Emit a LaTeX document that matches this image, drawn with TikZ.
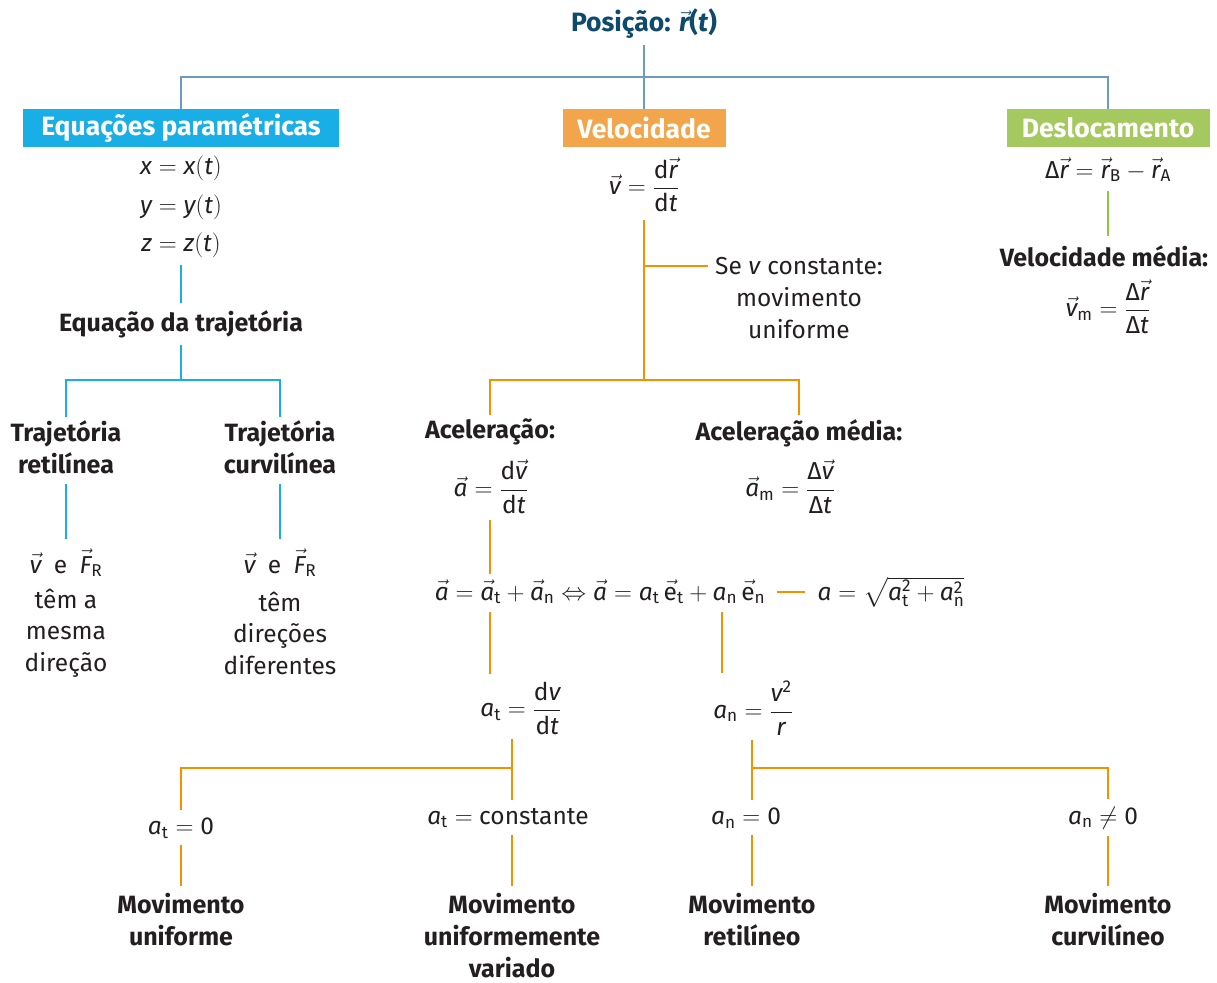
\documentclass[tikz,border=0pt]{standalone}
\usepackage{amsmath}
\usepackage{fontspec}
\setmainfont{Fira Sans}
\usetikzlibrary{calc}
\definecolor{ink}{HTML}{231F20}
\definecolor{titleblue}{HTML}{0D4A6B}
\definecolor{topline}{HTML}{6C9BBF}
\definecolor{cyanl}{HTML}{19AEE6}
\definecolor{orbox}{HTML}{F2A54A}
\definecolor{orl}{HTML}{F39200}
\definecolor{grbox}{HTML}{A5C95F}
\definecolor{grl}{HTML}{8DC63F}
\newcommand{\vv}[1]{\vec{\text{\itshape #1}}}
\newcommand{\iv}[1]{\text{\itshape #1}}
\newcommand{\fsr}{\fontsize{24.5}{32}\selectfont}
\tikzset{
  every node/.style={inner sep=0pt, text=ink, align=center, font=\fsr},
  lbl/.style={font=\fontsize{25}{32}\selectfont\bfseries},
  box/.style={fill=#1, text=white, font=\fontsize{26.5}{30}\selectfont\bfseries, minimum height=38},
  ltop/.style={draw=topline, line width=2.2},
  lblue/.style={draw=cyanl, line width=2.5},
  lor/.style={draw=orl, line width=2.5},
  lgr/.style={draw=grl, line width=2.5},
  gap/.style={shorten <=#1, shorten >=#1},
}
\begin{document}
\begin{tikzpicture}[x=1pt,y=-1pt]
\useasboundingbox (0,0) rectangle (1217,982);
% title
\node[font=\fontsize{26.5}{30}\selectfont\bfseries, text=titleblue] (title) at (644,24) {Posição: $\vv{r}$(\textit{t})};
\node[box=cyanl, minimum width=316] (eqb) at (181,128) {Equações paramétricas};
\node[box=orbox, minimum width=163] (velb) at (644,128) {Velocidade};
\node[box=grbox, minimum width=203] (desb) at (1108,128) {Deslocamento};
\coordinate (tj) at (644,77);
\draw[ltop, shorten <=6] (title.south) -- (tj);
\draw[ltop] (eqb.north) |- (tj) -| (desb.north);
\draw[ltop] (velb.north) -- (tj);
% left column
\node[font=\fontsize{24.5}{38.5}\selectfont] (pe) at (181,207) {$\iv{x} = \iv{x}(\iv{t})$\\ $\iv{y} = \iv{y}(\iv{t})$\\ $\iv{z} = \iv{z}(\iv{t})$};
\node[lbl] (traj) at (181,324) {Equação da trajetória};
\draw[lblue, gap=7] (pe) -- (traj);
\coordinate (jt) at (181,380);
\draw[lblue, shorten <=7] (traj.south) -- (jt);
\node[lbl] (tr1) at (66,447) {Trajetória\\retilínea};
\node[lbl] (tr2) at (280,447) {Trajetória\\curvilínea};
\draw[lblue, gap=3] (tr1.north) |- (jt) -| (tr2.north);
\node (vf1) at (66,563) {$\vv{v}$\enspace e\enspace $\vv{F}_{\text{R}}$};
\node (vf2) at (280,563) {$\vv{v}$\enspace e\enspace $\vv{F}_{\text{R}}$};
\draw[lblue, gap=10] (tr1) -- (vf1);
\draw[lblue, gap=10] (tr2) -- (vf2);
\node[font=\fontsize{24.5}{31.5}\selectfont] (tx1) at (66,633) {têm a\\mesma\\direção};
\node[font=\fontsize{24.5}{31.5}\selectfont] (tx2) at (280,633) {têm\\direções\\diferentes};
% middle column
\node (velf) at (644,185) {$\vv{v} = \dfrac{\text{d}\vv{r}}{\text{d}\iv{t}}$};
\coordinate (jv) at (644,380);
\draw[lor, shorten <=8] (velf.south) -- (jv);
\node (sev) at (799,298) {Se \textit{v} constante:\\movimento\\uniforme};
\coordinate (js) at (644,266);
\draw[lor, shorten >=7] (js) -- (js -| sev.west);
\node[lbl] (acc) at (490,432) {Aceleração:};
\node[lbl] (accm) at (799,433) {Aceleração média:};
\draw[lor, gap=4] (acc.north) |- (jv) -| (accm.north);
\node (accf) at (491,487) {$\vv{a} = \dfrac{\text{d}\vv{v}}{\text{d}\iv{t}}$};
\node (accmf) at (790,487) {$\vv{a}_{\text{m}} = \dfrac{\text{Δ}\vv{v}}{\text{Δ}\iv{t}}$};
\node (big) at (600,592) {$\vv{a} = \vv{a}_{\text{t}} + \vv{a}_{\text{n}} \Leftrightarrow \vv{a} = \iv{a}_{\text{t}}\,\vec{\text{e}}_{\text{t}} + \iv{a}_{\text{n}}\,\vec{\text{e}}_{\text{n}}$};
\node (sq) at (891,592) {$\iv{a} = \sqrt{\iv{a}_{\text{t}}^{\text{2}} + \iv{a}_{\text{n}}^{\text{2}}}$};
\draw[lor, line width=1.6, gap=12] (big.east) -- (sq.west);
\draw[lor, gap=6] (accf.south -| 490,0) -- (big.north -| 490,0);
\node (at) at (521,708) {$\iv{a}_{\text{t}} = \dfrac{\text{d}\iv{v}}{\text{d}\iv{t}}$};
\node (an) at (753,708) {$\iv{a}_{\text{n}} = \dfrac{\iv{v}^{\text{2}}}{\iv{r}}$};
\draw[lor, gap=8] (big.south -| 490,0) -- (at.north -| 490,0);
\draw[lor, gap=8] (big.south -| 722,0) -- (an.north -| 722,0);
\coordinate (ja) at (512,768);
\coordinate (jb) at (752,768);
\draw[lor, shorten <=5] (at.south -| ja) -- (ja);
\draw[lor, shorten <=5] (an.south -| jb) -- (jb);
\node (c1) at (181,828) {$\iv{a}_{\text{t}} = \text{0}$};
\node (c2) at (508,818) {$\iv{a}_{\text{t}} = $ constante};
\node (c3) at (746,818) {$\iv{a}_{\text{n}} = \text{0}$};
\node (c4) at (1103,818) {$\iv{a}_{\text{n}} \neq \text{0}$};
\draw[lor, shorten >=8] (ja) -| (c1.north -| 181,0);
\draw[lor, shorten >=8] (ja) -- (c2.north -| ja);
\draw[lor, shorten >=8] (jb) -- (c3.north -| jb);
\draw[lor, shorten >=8] (jb) -| (c4.north -| 1108,0);
\node[lbl] (m1) at (181,920) {Movimento\\uniforme};
\node[lbl] (m2) at (512,936) {Movimento\\uniformemente\\variado};
\node[lbl] (m3) at (752,920) {Movimento\\retilíneo};
\node[lbl] (m4) at (1108,920) {Movimento\\curvilíneo};
\draw[lor, gap=7] (c1.south -| 181,0) -- (m1.north -| 181,0);
\draw[lor, gap=7] (c2.south -| ja) -- (m2.north -| ja);
\draw[lor, gap=7] (c3.south -| jb) -- (m3.north -| jb);
\draw[lor, gap=7] (c4.south -| 1108,0) -- (m4.north -| 1108,0);
% right column
\node (desf) at (1108,170) {$\text{Δ}\vv{r} = \vv{r}_{\text{B}} - \vv{r}_{\text{A}}$};
\node[lbl] (vmed) at (1104,256) {Velocidade média:};
\node (vmf) at (1108,307) {$\vv{v}_{\text{m}} = \dfrac{\text{Δ}\vv{r}}{\text{Δ}\iv{t}}$};
\draw[lgr, gap=9] (desf.south) -- (desf.south |- vmed.north);
\end{tikzpicture}
\end{document}
